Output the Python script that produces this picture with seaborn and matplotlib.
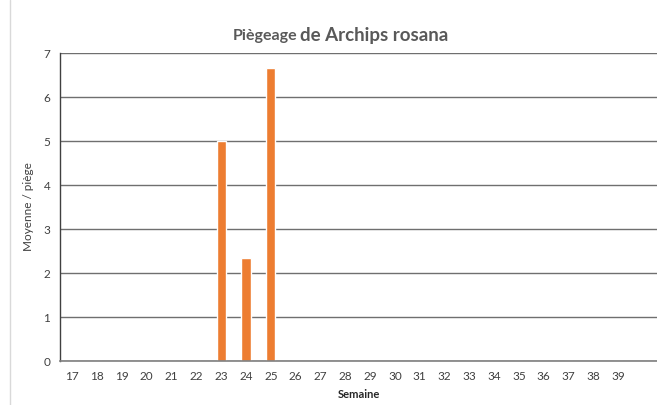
import matplotlib
matplotlib.use("Agg")
import matplotlib.pyplot as plt
import seaborn as sns
import pandas as pd
from matplotlib.lines import Line2D

weeks = [str(w) for w in range(17, 40)]
values = [0, 0, 0, 0, 0, 0, 5.0, 2.33, 6.67, 0, 0, 0, 0, 0, 0, 0, 0, 0, 0, 0, 0, 0, 0]
yticks = [0, 1, 2, 3, 4, 5, 6, 7]

sns.set_theme(style="white")
plt.rcParams['font.family'] = ['Lato', 'DejaVu Sans']

df = pd.DataFrame({"Semaine": weeks, "Moyenne": values})

fig = plt.figure(figsize=(6.57, 4.05), dpi=100)
ax = fig.add_axes([60/657, 1-361/405, 1-60/657, (361-53)/405])

sns.barplot(data=df, x="Semaine", y="Moyenne", order=weeks, color="#ED7D31",
            width=0.37, ax=ax, saturation=1)

ax.set_ylim(0, 7)
ax.set_xlim(-0.5, 23.57)
ax.set_yticks(yticks)
ax.set_yticklabels([str(v) for v in yticks])
ax.yaxis.grid(True, color="#6f6f6f", linewidth=1.0)
ax.set_axisbelow(True)
for s in ["top", "right"]:
    ax.spines[s].set_visible(False)
ax.spines["left"].set_color("#404040")
ax.spines["left"].set_linewidth(1.0)
ax.spines["bottom"].set_color("#7f7f7f")
ax.spines["bottom"].set_linewidth(1.2)
ax.tick_params(axis="both", length=0, labelsize=8.5, labelcolor="#404040", pad=7)

ax.set_xlabel("Semaine", fontsize=8, fontweight="bold", color="#262626", labelpad=5)
ax.set_ylabel("Moyenne / piège", fontsize=8.5, color="#404040", labelpad=7)

fig.text(297/657, 1-36/405, "Piègeage", ha="right", va="center",
         fontsize=11.5, fontweight="bold", color="#595959")
fig.text(300/657, 1-36/405, "de Archips rosana", ha="left", va="center",
         fontsize=13.5, fontweight="bold", color="#595959")

fig.add_artist(Line2D([10/657, 10/657], [0, 1], transform=fig.transFigure,
                      color="#d9d9d9", linewidth=1))

fig.savefig("out.png", dpi=100)
